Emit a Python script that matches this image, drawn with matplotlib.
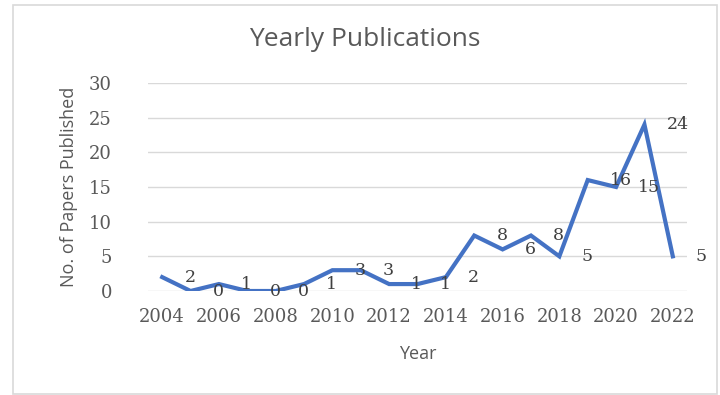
import matplotlib.pyplot as plt
from matplotlib.patches import Rectangle

# Yearly publication counts
years = list(range(2004, 2023))
papers = [2, 0, 1, 0, 0, 1, 3, 3, 1, 1, 2, 8, 6, 8, 5, 16, 15, 24, 5]
tick_years = years[::2]

grey_text = '#595959'
serif = 'DejaVu Serif'
sans = 'Open Sans'

fig = plt.figure(figsize=(7.2, 3.95), dpi=100)
ax = fig.add_axes([148 / 720, 1 - 291 / 395, (687 - 148) / 720, (291 - 83) / 395])

# Line
ax.plot(years, papers, color='#4472C4', linewidth=3, solid_joinstyle='miter', zorder=3)

# Data labels to the right of each point
for x, y in zip(years, papers):
    ax.annotate(str(y), (x, y), xytext=(16, 0), textcoords='offset points',
                ha='left', va='center', fontsize=12.5, family=serif, color='#404040', zorder=4)

# Axes styling
ax.set_xlim(2003.5, 2022.5)
ax.set_ylim(0, 30)
ax.set_yticks(range(0, 31, 5))
ax.set_xticks(tick_years)
ax.set_xticklabels([str(y) for y in tick_years], family=serif, fontsize=13, color=grey_text)
ax.set_yticklabels([str(v) for v in range(0, 31, 5)], family=serif, fontsize=13, color=grey_text)
ax.tick_params(axis='both', length=0)
ax.tick_params(axis='x', pad=12)
ax.tick_params(axis='y', pad=26)
ax.grid(axis='y', color='#D9D9D9', linewidth=1)
ax.set_axisbelow(True)
for s in ax.spines.values():
    s.set_visible(False)

ax.set_xlabel('Year', family=sans, fontsize=13, color=grey_text, labelpad=14)
ax.set_ylabel('No. of Papers Published', family=sans, fontsize=13, color=grey_text, labelpad=8)

# Title
fig.text(365 / 720, 1 - 40 / 395, 'Yearly Publications', ha='center', va='center',
         family=sans, fontsize=19, color=grey_text)

# Chart border
fig.patches.append(Rectangle((12.5 / 720, 1 / 395), (717 - 12.5) / 720, (389) / 395,
                             transform=fig.transFigure, fill=False,
                             edgecolor='#D9D9D9', linewidth=1.2))

fig.savefig('out.png', dpi=100)
